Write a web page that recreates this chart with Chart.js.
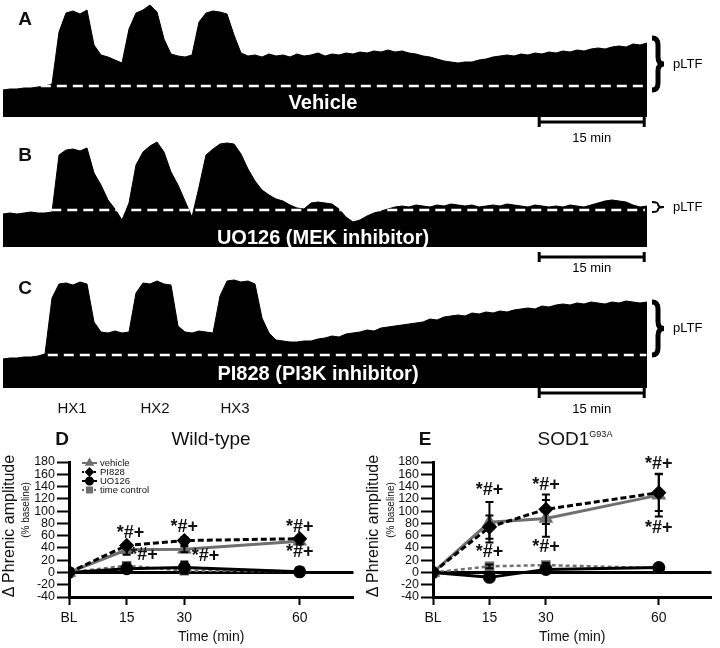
<!DOCTYPE html>
<html lang="en">
<head>
<meta charset="UTF-8">
<title>pLTF traces and summary</title>
<script src="https://cdn.jsdelivr.net/npm/chart.js"></script>
<style>
    body {
        margin: 0;
        background: #fff;
        font-family: "Liberation Sans", Arial, sans-serif;
        color: #111;
    }
    #fig {
        position: relative;
        width: 720px;
        height: 648px;
        overflow: hidden;
    }
    #fig canvas {
        position: absolute;
    }
    .lbl {
        position: absolute;
        transform: translate(-50%, -50%);
        white-space: nowrap;
        line-height: 1;
    }
    .panel { font-weight: bold; font-size: 19px; }
    .inbar { color: #fff; font-weight: bold; font-size: 20px; z-index: 2; }
    .hx { font-size: 15px; }
    .ttl { font-size: 19px; }
    .ytitle { font-size: 16px; transform: translate(-50%, -50%) rotate(-90deg); }
    .ysub { font-size: 10px; transform: translate(-50%, -50%) rotate(-90deg); }
    sup { font-size: 9px; vertical-align: 8px; }
</style>
</head>
<body>
<div id="fig">
    <canvas id="trA" width="720" height="147" style="left:0px;top:0px"></canvas>
    <canvas id="trB" width="720" height="142" style="left:0px;top:135px"></canvas>
    <canvas id="trC" width="720" height="148" style="left:0px;top:270px"></canvas>
    <canvas id="chD" width="362" height="208" style="left:0px;top:440px"></canvas>
    <canvas id="chE" width="360" height="208" style="left:360px;top:440px"></canvas>

    <div class="lbl panel" style="left:25px;top:18px">A</div>
    <div class="lbl panel" style="left:25px;top:154px">B</div>
    <div class="lbl panel" style="left:25px;top:287px">C</div>
    <div class="lbl inbar" style="left:323px;top:102px">Vehicle</div>
    <div class="lbl inbar" style="left:323px;top:237px">UO126 (MEK inhibitor)</div>
    <div class="lbl inbar" style="left:318px;top:373px">PI828 (PI3K inhibitor)</div>
    <div class="lbl hx" style="left:72px;top:407px">HX1</div>
    <div class="lbl hx" style="left:155px;top:407px">HX2</div>
    <div class="lbl hx" style="left:235px;top:407px">HX3</div>

    <div class="lbl panel" style="left:62px;top:438px">D</div>
    <div class="lbl ttl" style="left:211px;top:438px">Wild-type</div>
    <div class="lbl panel" style="left:425px;top:438px">E</div>
    <div class="lbl ttl" style="left:575px;top:438px">SOD1<sup>G93A</sup></div>

    <div class="lbl ytitle" style="left:9px;top:526px">Δ Phrenic amplitude</div>
    <div class="lbl ysub" style="left:26px;top:510px">(% baseline)</div>
    <div class="lbl ytitle" style="left:373px;top:526px">Δ Phrenic amplitude</div>
    <div class="lbl ysub" style="left:391px;top:510px">(% baseline)</div>
</div>

<script>
    // ---- raw traces (integrated phrenic activity, a.u.), one sample per minute ----
    const vehicleTrace = [27,28,28,29,29,30,31,33,
        85,104,106,103,107, 72,62,60,57,54,
        88,104,107,112,105, 78,63,61,60,62,
        95,104,106,105,103, 82,64,61,
        62,60,63,61,62,60,63,61,62,64,61,63,62,64,63,65,64,66,65,67,65,66,64,63,61,60,58,
        56,55,54,55,55,57,58,60,61,62,61,63,62,64,63,65,64,66,65,67,66,68,69,68,70,71,70,73,72,74];
    const uo126Trace = [33,34,33,34,35,34,34,35,
        92,97,98,96,99, 74,62,47,38,27,
        44,82,95,101,105, 95,75,62,46,30,
        60,92,98,103,104,103,
        93,78,66,57,52,48,46,42,39,38,
        44,45,44,43,38,30,25,27,31,34,36,38,
        40,41,40,42,41,40,42,41,43,42,41,42,40,41,42,41,43,42,41,40,42,41,40,41,40,42,41,40,
        42,44,46,47,46,45,42,40,41];
    const pi828Trace = [29,30,30,31,31,32,34,
        90,104,105,103,106,104, 66,56,55,57,55,56,
        95,105,104,107,104,103, 62,56,55,57,56,55,
        92,107,108,106,107,104, 70,55,48,47,46,46,47,
        47,49,50,52,51,54,55,56,58,57,60,61,62,63,64,65,66,69,68,71,72,73,72,75,74,
        76,75,77,76,78,79,80,79,82,81,83,84,83,85,84,86,85,84,86,85,87,86,85,86];
    const traceMinutes = 92;
    const scaleBarMin = 15;

    // baseline level, dashed line extent (min), pLTF brace range, full-scale
    const vehicleBase = 31, uo126Base = 37, pi828Base = 33;
    const vehicleDash = [5.4, 91.4], uo126Dash = [6.9, 91.7], pi828Dash = [6.4, 91.9];
    const vehicleBrace = [27, 79], uo126Brace = [35, 45], pi828Brace = [33, 86];
    const vehicleMax = 117, uo126Max = 112, pi828Max = 118;

    // ---- summary data (% baseline), mean and SEM ----
    const timePoints = [0, 15, 30, 60];
    const xTickLabels = ['BL', '15', '30', '60'];
    const seriesNames = ['vehicle', 'PI828', 'UO126', 'time control'];

    const wtVehicle = [0, 37, 38, 51];
    const wtPI828 = [0, 44, 52, 55];
    const wtUO126 = [0, 6, 8, 1];
    const wtTime = [0, 11, 3, 2];
    const wtVehicleErr = [0, 8, 5, 5];
    const wtPI828Err = [0, 4, 5, 4];
    const wtUO126Err = [0, 3, 10, 3];
    const wtTimeErr = [0, 4, 3, 3];

    const sodVehicle = [0, 82, 88, 126];
    const sodPI828 = [0, 74, 103, 130];
    const sodUO126 = [0, -8, 5, 8];
    const sodTime = [0, 10, 12, 7];
    const sodVehicleErr = [0, 33, 30, 35];
    const sodPI828Err = [0, 19, 24, 30];
    const sodUO126Err = [0, 3, 4, 3];
    const sodTimeErr = [0, 3, 4, 3];

    // "*#+" label anchors [min, %]
    const wtSig = [[16, 65], [19.5, 28], [30, 74], [35.5, 26], [60, 74], [60, 33]];
    const sodSig = [[15, 134], [15, 34], [30, 142], [30, 42], [60, 177], [60, 72]];

    const FONT = '"Liberation Sans", Arial, sans-serif';

    // scale bar, brace and pLTF label next to a trace
    function traceExtras(barGap, brace, braceW) {
        return {
            id: 'traceExtras',
            afterDraw(chart) {
                const { ctx, chartArea } = chart;
                const x = chart.scales.x, y = chart.scales.y;
                ctx.save();
                ctx.strokeStyle = '#000';
                ctx.fillStyle = '#000';
                ctx.lineWidth = 3;
                const x0 = x.getPixelForValue(traceMinutes - 0.4 - scaleBarMin);
                const x1 = x.getPixelForValue(traceMinutes - 0.4);
                const yb = chartArea.bottom + barGap;
                ctx.beginPath();
                ctx.moveTo(x0, yb); ctx.lineTo(x1, yb);
                ctx.moveTo(x0, yb - 5); ctx.lineTo(x0, yb + 5);
                ctx.moveTo(x1, yb - 5); ctx.lineTo(x1, yb + 5);
                ctx.stroke();
                ctx.font = '13px ' + FONT;
                ctx.textAlign = 'center';
                ctx.textBaseline = 'middle';
                ctx.fillText(scaleBarMin + ' min', (x0 + x1) / 2, chartArea.bottom + 21);

                // curly brace
                const top = y.getPixelForValue(brace[1]);
                const bot = y.getPixelForValue(brace[0]);
                const mid = (top + bot) / 2;
                const bx = chartArea.right + 5;
                const xm = bx + 6, tip = bx + 12;
                const r = Math.min(7, (bot - top) / 4);
                ctx.lineWidth = braceW;
                ctx.beginPath();
                ctx.moveTo(bx, top);
                ctx.quadraticCurveTo(xm, top, xm, top + r);
                ctx.lineTo(xm, mid - r);
                ctx.quadraticCurveTo(xm, mid, tip, mid);
                ctx.quadraticCurveTo(xm, mid, xm, mid + r);
                ctx.lineTo(xm, bot - r);
                ctx.quadraticCurveTo(xm, bot, bx, bot);
                ctx.stroke();
                ctx.textAlign = 'left';
                ctx.fillText('pLTF', tip + 9, mid);
                ctx.restore();
            }
        };
    }

    function makeTrace(id, values, base, dash, brace, maxV, barGap, braceW) {
        new Chart(document.getElementById(id), {
            type: 'line',
            data: {
                datasets: [
                    {
                        data: values.map((v, i) => ({ x: i, y: v })),
                        borderColor: '#000',
                        backgroundColor: '#000',
                        borderWidth: 1,
                        fill: 'origin',
                        pointRadius: 0,
                        tension: 0,
                        order: 2
                    },
                    {
                        data: dash.map(t => ({ x: t, y: base })),
                        borderColor: '#fff',
                        borderWidth: 2.5,
                        borderDash: [10, 6],
                        pointRadius: 0,
                        fill: false,
                        order: 1
                    }
                ]
            },
            options: {
                responsive: false,
                animation: false,
                layout: { padding: { left: 3, right: 73, top: 0, bottom: 30 } },
                plugins: { legend: { display: false }, tooltip: { enabled: false } },
                scales: {
                    x: { type: 'linear', min: 0, max: traceMinutes, display: false },
                    y: { min: 0, max: maxV, display: false }
                }
            },
            plugins: [traceExtras(barGap, brace, braceW)]
        });
    }

    makeTrace('trA', vehicleTrace, vehicleBase, vehicleDash, vehicleBrace, vehicleMax, 5, 5);
    makeTrace('trB', uo126Trace, uo126Base, uo126Dash, uo126Brace, uo126Max, 10, 2);
    makeTrace('trC', pi828Trace, pi828Base, pi828Dash, pi828Brace, pi828Max, 5, 5);

    // ---- summary plots ----
    const GRAY = '#6f6f6f';
    const styles = [
        { color: GRAY, pointStyle: 'triangle', radius: 5.5, dash: [], width: 3 },
        { color: '#000', pointStyle: 'rectRot', radius: 5.5, dash: [6, 3], width: 3 },
        { color: '#000', pointStyle: 'circle', radius: 5, dash: [], width: 3 },
        { color: GRAY, pointStyle: 'rect', radius: 5, dash: [4, 3], width: 2.5 }
    ];
    const drawOrder = [2, 1, 3, 4];

    function plotExtras(errs, sig, withLegend) {
        return {
            id: 'plotExtras',
            afterDatasetsDraw(chart) {
                const { ctx, chartArea } = chart;
                const x = chart.scales.x, y = chart.scales.y;
                ctx.save();
                ctx.strokeStyle = '#000';
                ctx.lineWidth = 2;
                chart.data.datasets.forEach((ds, i) => {
                    ds.data.forEach((p, j) => {
                        const e = errs[i][j];
                        if (!e) return;
                        const px = x.getPixelForValue(p.x);
                        const t = y.getPixelForValue(p.y + e);
                        const b = y.getPixelForValue(p.y - e);
                        ctx.beginPath();
                        ctx.moveTo(px, t); ctx.lineTo(px, b);
                        ctx.moveTo(px - 4, t); ctx.lineTo(px + 4, t);
                        ctx.moveTo(px - 4, b); ctx.lineTo(px + 4, b);
                        ctx.stroke();
                    });
                });

                ctx.fillStyle = '#111';
                ctx.font = 'bold 18px ' + FONT;
                ctx.textAlign = 'center';
                ctx.textBaseline = 'middle';
                sig.forEach(s => {
                    ctx.fillText('*#+', x.getPixelForValue(s[0]), y.getPixelForValue(s[1]));
                });

                if (withLegend) {
                    ctx.font = '9.5px ' + FONT;
                    ctx.textAlign = 'left';
                    chart.data.datasets.forEach((ds, i) => {
                        const st = styles[i];
                        const ly = chartArea.top + 1 + i * 9;
                        const lx = chartArea.left + 13;
                        ctx.strokeStyle = st.color;
                        ctx.fillStyle = st.color;
                        ctx.lineWidth = 2;
                        ctx.setLineDash(st.dash.length ? [2, 2] : []);
                        ctx.beginPath();
                        ctx.moveTo(lx, ly); ctx.lineTo(lx + 15, ly);
                        ctx.stroke();
                        ctx.setLineDash([]);
                        Chart.helpers.drawPoint(ctx, {
                            pointStyle: st.pointStyle, radius: 3.5, rotation: 0, borderWidth: 1
                        }, lx + 7.5, ly);
                        ctx.fillStyle = '#111';
                        ctx.fillText(ds.label, lx + 18, ly + 0.5);
                    });
                }
                ctx.restore();
            }
        };
    }

    function makePlot(id, series, errs, sig, axisWidth, padRight, withLegend) {
        new Chart(document.getElementById(id), {
            type: 'line',
            data: {
                datasets: series.map((vals, i) => ({
                    label: seriesNames[i],
                    data: vals.map((v, j) => ({ x: timePoints[j], y: v })),
                    borderColor: styles[i].color,
                    backgroundColor: styles[i].color,
                    pointBackgroundColor: styles[i].color,
                    pointBorderColor: styles[i].color,
                    borderWidth: styles[i].width,
                    borderDash: styles[i].dash,
                    pointStyle: styles[i].pointStyle,
                    pointRadius: styles[i].radius,
                    tension: 0,
                    fill: false,
                    order: drawOrder[i]
                }))
            },
            options: {
                responsive: false,
                animation: false,
                layout: { padding: { left: 0, right: padRight, top: 22, bottom: 0 } },
                plugins: { legend: { display: false }, tooltip: { enabled: false } },
                scales: {
                    x: {
                        type: 'linear',
                        min: 0,
                        max: 74,
                        afterBuildTicks: a => { a.ticks = timePoints.map(v => ({ value: v })); },
                        ticks: {
                            callback: v => xTickLabels[timePoints.indexOf(v)],
                            font: { family: FONT, size: 14 },
                            color: '#111',
                            padding: 5,
                            maxRotation: 0,
                            autoSkip: false
                        },
                        grid: { drawOnChartArea: false, tickLength: 8, tickColor: '#000', tickWidth: 2 },
                        border: { color: '#000', width: 3 },
                        title: {
                            display: true, text: 'Time (min)', color: '#111',
                            font: { family: FONT, size: 14 }, padding: { top: 0, bottom: 2 }
                        },
                        afterFit: s => { s.height = 51; }
                    },
                    y: {
                        min: -40,
                        max: 180,
                        ticks: {
                            stepSize: 20,
                            autoSkip: false,
                            font: { family: FONT, size: 12.5 },
                            color: '#111',
                            padding: 2
                        },
                        grid: {
                            color: c => (c.tick && c.tick.value === 0 ? '#000' : 'rgba(0,0,0,0)'),
                            lineWidth: c => (c.tick && c.tick.value === 0 ? 3 : 1),
                            tickColor: '#000',
                            tickWidth: 2,
                            tickLength: 12
                        },
                        border: { color: '#000', width: 3 },
                        afterFit: s => { s.width = axisWidth; }
                    }
                }
            },
            plugins: [plotExtras(errs, sig, withLegend)]
        });
    }

    makePlot('chD',
        [wtVehicle, wtPI828, wtUO126, wtTime],
        [wtVehicleErr, wtPI828Err, wtUO126Err, wtTimeErr],
        wtSig, 69, 8, true);
    makePlot('chE',
        [sodVehicle, sodPI828, sodUO126, sodTime],
        [sodVehicleErr, sodPI828Err, sodUO126Err, sodTimeErr],
        sodSig, 73, 3, false);
</script>
</body>
</html>
